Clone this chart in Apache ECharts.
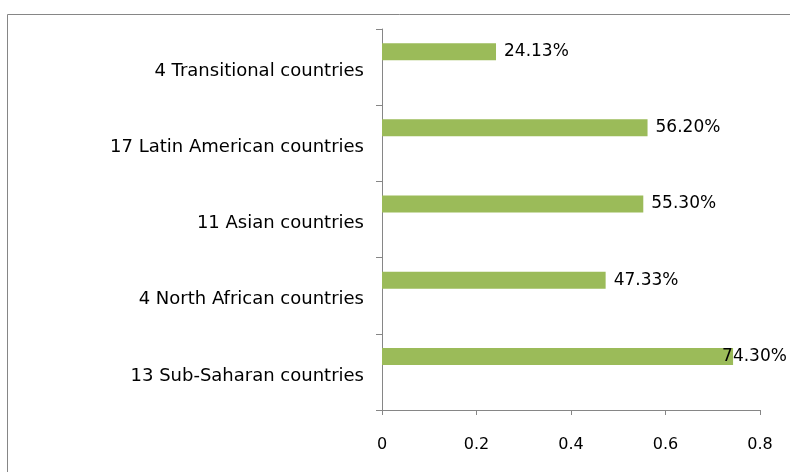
<!DOCTYPE html>
<html><head><meta charset="utf-8">
<script src="https://cdn.jsdelivr.net/npm/echarts@6/dist/echarts.min.js"></script>
<style>html,body{margin:0;padding:0;background:#fff}#c{width:790px;height:472px}</style>
</head><body><div id="c"></div>
<script>
var categories = ["13 Sub-Saharan countries","4 North African countries","11 Asian countries","17 Latin American countries","4 Transitional countries"];
var shares = [0.7430, 0.4733, 0.5530, 0.5620, 0.2413];
var xTicks = [0, 0.2, 0.4, 0.6, 0.8];

var chart = echarts.init(document.getElementById('c'));
var font = '"DejaVu Sans", sans-serif';
var data = shares.map(function(v, i){
  var item = {value: v};
  if (v > 0.7) item.label = {offset: [-19, 0]};
  return item;
});
chart.setOption({
  animation: false,
  graphic: [{type:'rect', shape:{x:7.5, y:14.5, width:800, height:480}, style:{fill:'none', stroke:'#868686', lineWidth:1}, silent:true}],
  grid: {left: 382, right: 30, top: 29, bottom: 62, containLabel: false},
  xAxis: {type:'value', min: xTicks[0], max: xTicks[xTicks.length-1], interval: 0.2,
    axisLine:{show:true, lineStyle:{color:'#868686'}},
    axisTick:{show:true, length:5, lineStyle:{color:'#868686'}},
    splitLine:{show:false},
    axisLabel:{margin: 27, color:'#000', fontFamily:font, fontSize:16, formatter:function(v){return String(v);}}
  },
  yAxis: {type:'category', data: categories,
    axisLine:{show:true, lineStyle:{color:'#868686'}},
    axisTick:{show:true, length:6, lineStyle:{color:'#868686'}},
    axisLabel:{margin: 18, color:'#000', fontFamily:font, fontSize:18,
      formatter:function(v){return '{a|' + v + '}';},
      rich:{a:{fontFamily:font, fontSize:18, color:'#000', padding:[8,0,0,0]}}}
  },
  series: [
    {type:'bar', data: data, barWidth: 17, barGap: '82%', itemStyle:{color:'#9BBB59'},
     label:{show:true, position:'right', distance:8, color:'#000', fontFamily:font, fontSize:17,
       formatter:function(p){return (p.value*100).toFixed(2)+'%';}}},
    {type:'bar', data: shares.map(function(){return '-';}), barWidth: 17}
  ]
});
</script></body></html>
